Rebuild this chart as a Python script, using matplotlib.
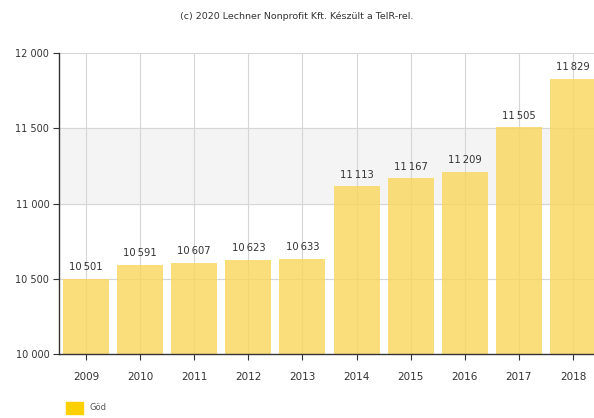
import numpy as np
import matplotlib.pyplot as plt

years = ['2009', '2010', '2011', '2012', '2013', '2014', '2015', '2016', '2017', '2018']
population = [10501, 10591, 10607, 10623, 10633, 11113, 11167, 11209, 11505, 11829]
series_name = 'Göd'
credit = '(c) 2020 Lechner Nonprofit Kft. Készült a TeIR-rel.'


def fmt(v, sep=' '):
    # thousands separated by a space, hungarian style
    return '{:,}'.format(int(v)).replace(',', sep)


fig = plt.figure(figsize=(5.94, 4.18), dpi=100)
ax = fig.add_axes([59 / 594, 1 - 354 / 418, 541 / 594, 301 / 418])

x = np.arange(len(years))
ax.set_xlim(-0.5, len(years) - 0.5)
ax.set_ylim(10000, 12000)

# alternating band behind the bars
ax.axhspan(11000, 11500, color='#f4f4f4', zorder=0)
for yv in [10500, 11000, 11500, 12000]:
    ax.axhline(yv, color='#d6d6d6', lw=0.8, zorder=1)
for xv in x:
    ax.axvline(xv, color='#d6d6d6', lw=0.8, zorder=1)

ax.bar(x, [p - 10000 for p in population], bottom=10000, width=0.85,
       color='#f8d65a', alpha=0.8, zorder=2)

for xi, p in zip(x, population):
    ax.text(xi, p + 45, fmt(p, '\u2009'), ha='center', va='bottom', fontsize=7.2,
            color='#333333', zorder=4)

ax.set_xticks(x)
ax.set_xticklabels(years, fontsize=7.5)
ax.set_yticks([10000, 10500, 11000, 11500, 12000])
ax.set_yticklabels([fmt(v) for v in [10000, 10500, 11000, 11500, 12000]], fontsize=7)
ax.tick_params(axis='both', colors='#333333', length=4, width=0.8, pad=9)
ax.tick_params(axis='y', pad=3)

for s in ['top', 'right']:
    ax.spines[s].set_visible(False)
for s in ['left', 'bottom']:
    ax.spines[s].set_color('#333333')
    ax.spines[s].set_linewidth(1.0)
    ax.spines[s].set_zorder(5)

fig.text(0.5, 1 - 16 / 418, credit, ha='center', va='center', fontsize=6.8, color='#333333')

# legend swatch
fig.patches.append(plt.Rectangle((66 / 594, 1 - 414 / 418), 17 / 594, 12 / 418,
                                 transform=fig.transFigure, color='#ffd000'))
fig.text(89 / 594, 1 - 408 / 418, series_name, ha='left', va='center', fontsize=6, color='#555555')

fig.savefig('out.png', dpi=100)
